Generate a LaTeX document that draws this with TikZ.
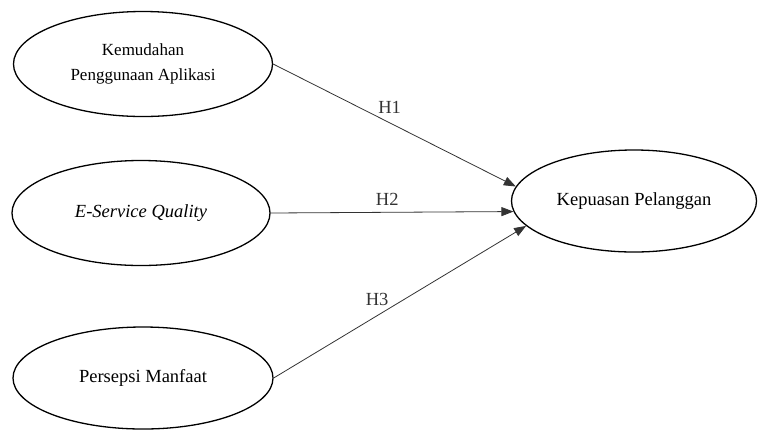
\documentclass[tikz,border=0pt]{standalone}
\usepackage{fontspec}
\setmainfont{Liberation Serif}
\usetikzlibrary{arrows.meta, shapes.geometric}

\begin{document}
\begin{tikzpicture}[x=1bp, y=1bp,
				>={Triangle[length=12bp, width=9bp]},
				font=\fontsize{18.5bp}{25bp}\selectfont,
				var/.style={ellipse, draw, line width=1.3bp, inner sep=0pt, align=center},
				path/.style={->, line width=0.8bp, black!80}]
				\useasboundingbox (0,0) rectangle (760,-432);
				\node at (143,-64) (kemudahan) [var, minimum width=259bp, minimum height=105bp, font=\fontsize{17bp}{25bp}\selectfont] {Kemudahan\\Penggunaan Aplikasi};
				\node at (141,-213) (eservice) [var, minimum width=258bp, minimum height=105bp] {\textit{E-Service Quality}};
				\node at (143,-378) (manfaat) [var, minimum width=260bp, minimum height=102bp] {Persepsi Manfaat};
				\node at (634,-201) (kepuasan) [var, minimum width=245bp, minimum height=102bp] {Kepuasan Pelanggan};
				\draw[path] (kemudahan.east) -- node[pos=0.48, above=6bp] {H1} (kepuasan.173);
				\draw[path] (eservice.east) -- node[pos=0.48, above=3bp] {H2} (kepuasan.185);
				\draw[path] (manfaat.east) -- node[pos=0.41, above=6bp] {H3} (kepuasan.193);
			\end{tikzpicture}
\end{document}
